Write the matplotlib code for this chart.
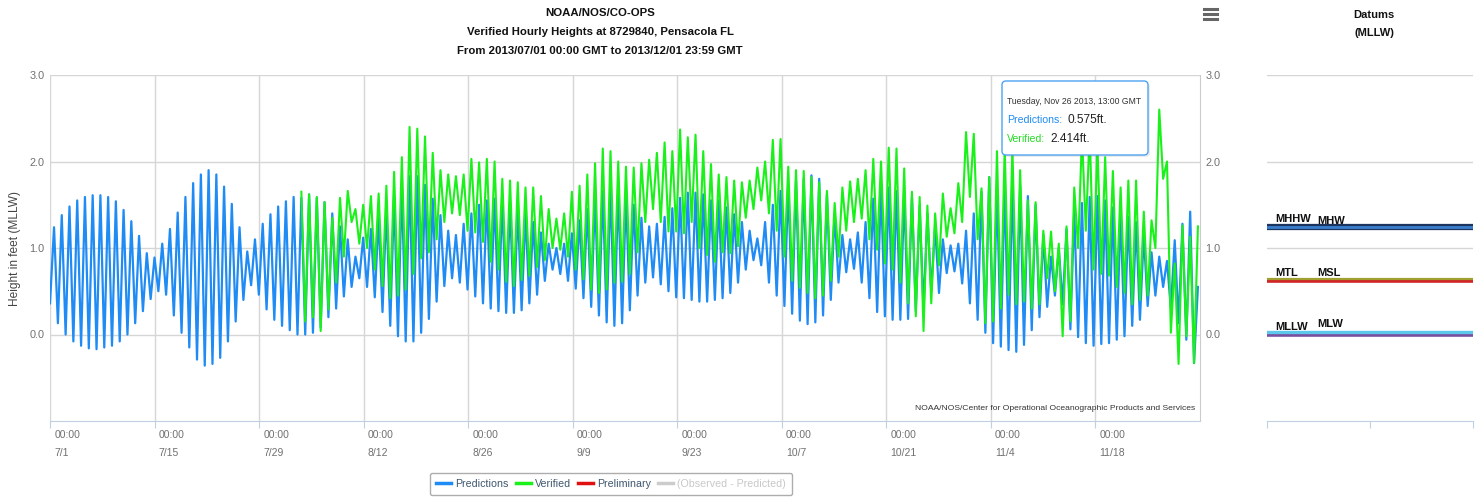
import matplotlib
matplotlib.use("Agg")
import matplotlib.pyplot as plt
from matplotlib import font_manager
from matplotlib.patches import FancyBboxPatch
from matplotlib.lines import Line2D
from matplotlib.transforms import IdentityTransform, ScaledTranslation

# ---- data ----
# one high and one low per tidal (lunar) day, starting at 7/1 00:00
T0 = 0.54      # day of first predicted high
P = 1.035      # lunar day, days

pred_first = 0.36
pred_hi = [1.24, 1.38, 1.48, 1.55, 1.59, 1.61, 1.61, 1.59, 1.54, 1.44,
           1.31, 1.14, 0.94, 0.89, 1.05, 1.22, 1.41, 1.59, 1.75, 1.85,
           1.90, 1.85, 1.71, 1.51, 1.24, 0.96, 1.10, 1.28, 1.39, 1.48,
           1.54, 1.59, 1.58, 1.62, 1.58, 1.53, 1.40, 1.25, 1.10, 0.90,
           1.12, 1.22, 1.35, 1.47, 1.60, 1.74, 1.83, 1.83, 1.73, 1.57,
           1.38, 1.20, 1.15, 1.28, 1.40, 1.50, 1.55, 1.57, 1.55, 1.50,
           1.45, 1.40, 1.30, 1.18, 1.05, 1.00, 1.05, 1.17, 1.32, 1.45,
           1.57, 1.66, 1.70, 1.67, 1.60, 1.50, 1.35, 1.25, 1.28, 1.36,
           1.46, 1.58, 1.64, 1.64, 1.62, 1.55, 1.55, 1.47, 1.39, 1.30,
           1.20, 1.11, 1.30, 1.50, 1.66, 1.74, 1.78, 1.80, 1.84, 1.80,
           1.62, 1.40, 1.15, 1.10, 1.18, 1.30, 1.57, 1.70, 1.70, 1.66,
           1.63, 1.59, 1.49, 1.40, 1.25, 1.10, 1.03, 1.05, 1.20, 1.40,
           1.65, 1.82, 1.68, 1.72, 1.75, 1.72, 1.60, 1.50, 1.15, 0.90,
           1.00, 1.22, 1.43, 1.52, 1.59, 1.60, 1.55, 1.47, 1.41, 1.36,
           1.30, 1.15, 0.95, 0.90, 0.85, 1.09, 1.28, 1.42, 0.55]
pred_lo = [0.13, 0.00, -0.08, -0.13, -0.16, -0.17, -0.15, -0.13, -0.08, 0.00,
           0.13, 0.27, 0.41, 0.50, 0.46, 0.22, 0.02, -0.15, -0.29, -0.36,
           -0.34, -0.27, -0.08, 0.15, 0.40, 0.57, 0.46, 0.29, 0.17, 0.10,
           0.05, 0.00, 0.00, 0.02, 0.08, 0.20, 0.30, 0.44, 0.55, 0.65,
           0.55, 0.43, 0.26, 0.10, -0.02, -0.08, -0.08, 0.02, 0.18, 0.38,
           0.56, 0.65, 0.60, 0.52, 0.44, 0.36, 0.30, 0.27, 0.25, 0.25,
           0.28, 0.36, 0.46, 0.62, 0.75, 0.70, 0.62, 0.53, 0.42, 0.32,
           0.22, 0.14, 0.10, 0.13, 0.28, 0.45, 0.60, 0.66, 0.58, 0.50,
           0.43, 0.42, 0.40, 0.38, 0.38, 0.40, 0.42, 0.48, 0.60, 0.75,
           0.86, 0.80, 0.60, 0.45, 0.33, 0.24, 0.16, 0.12, 0.14, 0.22,
           0.40, 0.60, 0.72, 0.76, 0.60, 0.42, 0.26, 0.21, 0.17, 0.17,
           0.18, 0.27, 0.29, 0.50, 0.48, 0.71, 0.73, 0.59, 0.36, 0.17,
           0.02, -0.10, -0.14, -0.18, -0.20, -0.12, 0.05, 0.20, 0.32, 0.45,
           0.35, 0.06, -0.03, -0.10, -0.13, -0.11, -0.10, -0.06, -0.02, 0.10,
           0.17, 0.33, 0.45, 0.55, 0.30, 0.13, -0.06, -0.33]

ver_k0 = 32    # verified data starts at the 33rd tidal day
ver_hi = [1.65, 1.62, 1.59, 1.53, 1.35, 1.58, 1.66, 1.45, 1.50, 1.60,
          1.63, 1.72, 1.88, 2.05, 2.40, 2.38, 2.29, 2.10, 1.90, 1.85,
          1.83, 1.85, 2.03, 1.99, 2.03, 2.00, 1.80, 1.78, 1.76, 1.70,
          1.70, 1.60, 1.45, 1.34, 1.40, 1.65, 1.72, 1.85, 1.98, 2.15,
          2.12, 2.00, 1.94, 1.93, 1.98, 2.02, 2.10, 2.22, 2.12, 2.37,
          2.28, 2.31, 2.12, 1.97, 1.85, 1.82, 1.78, 1.76, 1.78, 1.93,
          2.00, 2.25, 2.26, 1.94, 1.90, 1.89, 1.82, 1.76, 1.66, 1.52,
          1.70, 1.77, 1.80, 1.90, 2.03, 2.00, 2.16, 2.15, 1.92, 1.65,
          1.59, 1.49, 1.40, 1.63, 1.46, 1.75, 2.34, 2.32, 1.69, 1.82,
          2.12, 2.15, 2.15, 1.90, 1.55, 1.53, 1.20, 1.19, 1.05, 1.25,
          1.70, 2.30, 2.35, 2.20, 2.05, 1.89, 1.70, 1.78, 1.78, 1.42,
          1.32, 2.60, 2.00, 0.82, 1.26, 1.13, 1.25]
ver_lo = [0.15, 0.20, 0.04, 0.29, 0.60, 0.90, 1.30, 1.05, 1.00, 0.75,
          0.56, 0.42, 0.45, 0.52, 0.70, 0.88, 0.95, 1.10, 1.30, 1.40,
          1.38, 1.20, 1.18, 1.07, 0.84, 0.75, 0.61, 0.56, 0.63, 0.68,
          0.78, 0.86, 1.00, 0.98, 0.90, 0.75, 0.64, 0.52, 0.48, 0.52,
          0.60, 0.61, 0.70, 0.95, 1.30, 1.45, 1.30, 1.19, 1.19, 1.17,
          1.30, 1.00, 0.92, 0.84, 0.95, 0.94, 1.02, 1.35, 1.45, 1.55,
          1.40, 1.20, 0.90, 0.62, 0.54, 0.48, 0.42, 0.45, 0.62, 0.90,
          1.20, 1.30, 1.34, 1.10, 0.98, 0.82, 0.75, 0.60, 0.36, 0.21,
          0.04, 0.36, 0.80, 1.13, 1.17, 1.30, 1.59, 1.10, 0.13, 0.15,
          0.30, 0.46, 0.35, 0.38, 0.30, 0.35, 0.65, 0.50, -0.02, 0.15,
          1.00, 1.20, 0.75, 0.70, 0.68, 0.55, 0.48, 0.35, 0.40, 0.45,
          1.00, 1.80, 0.02, -0.34, -0.02, -0.33]

tick_days = [0, 14, 28, 42, 56, 70, 84, 98, 112, 126, 140]
tick_dates = ["7/1", "7/15", "7/29", "8/12", "8/26", "9/9", "9/23",
              "10/7", "10/21", "11/4", "11/18"]

datum_names = ["MHHW", "MHW", "MTL", "MSL", "MLLW", "MLW"]
datum_values = [1.24, 1.245, 0.615, 0.64, 0.0, 0.025]
datum_colors = ["#1b3560", "#3b7fcc", "#d02525", "#a0a030", "#7b4fa0", "#5cc8ec"]

BLUE = "#1f8bf5"
GREEN = "#1af01a"

names = {f.name for f in font_manager.fontManager.ttflist}
NARROW = "Liberation Sans Narrow" if "Liberation Sans Narrow" in names else "Liberation Sans"


def tide_series(k0, highs, lows, first=None):
    t, v = [], []
    if first is not None:
        t.append(0.0)
        v.append(first)
    for i, h in enumerate(highs):
        k = k0 + i
        t.append(T0 + k * P)
        v.append(h)
        if i < len(lows):
            t.append(T0 + (k + 0.5) * P)
            v.append(lows[i])
    return t, v


W, H = 1476, 499
fig = plt.figure(figsize=(W / 100, H / 100), dpi=100)


def fx(px):
    return px / W


def fy(py):
    return 1 - py / H


ax = fig.add_axes([fx(50), fy(421), 1150 / W, 346 / H])
t_p, v_p = tide_series(0, pred_hi, pred_lo, pred_first)
t_v, v_v = tide_series(ver_k0, ver_hi, ver_lo)
ax.plot(t_p, v_p, color=BLUE, lw=1.6, zorder=3, solid_joinstyle="round")
ax.plot(t_v, v_v, color=GREEN, lw=1.5, zorder=4, solid_joinstyle="round")

ax.set_xlim(0, 154)
ax.set_ylim(-1, 3)
ax.set_yticks([0, 1, 2, 3])
ax.set_yticklabels(["0.0", "1.0", "2.0", "3.0"])
ax.set_xticks(tick_days)
ax.set_xticklabels(["00:00\n" + d for d in tick_dates], fontfamily=NARROW,
                   linespacing=2.0)
ax.grid(True, color="#d6d6d6", lw=1)
ax.set_axisbelow(True)
for s in ["top", "left"]:
    ax.spines[s].set_visible(False)
ax.spines["right"].set_color("#cccccc")
ax.spines["bottom"].set_color("#c0d0e0")
ax.tick_params(axis="y", length=0, labelleft=True, labelright=True, pad=4,
               labelcolor="#707070", labelsize=7.8)
for lbl in ax.get_yticklabels():
    lbl.set_fontfamily(NARROW)
ax.tick_params(axis="x", length=5, color="#c0d0e0", labelcolor="#707070",
               labelsize=7.5, pad=1.5)
off = ScaledTranslation(3 / 72, 0, fig.dpi_scale_trans)
for lbl in ax.get_xticklabels():
    lbl.set_ha("left")
    lbl.set_multialignment("left")
    lbl.set_transform(lbl.get_transform() + off)

fig.text(fx(15), fy(248), "Height in feet (MLLW)", rotation=90, ha="center",
         va="center", fontsize=8.6, color="#444444", family="Liberation Sans")

# titles
title_lines = ["NOAA/NOS/CO-OPS",
               "Verified Hourly Heights at 8729840, Pensacola FL",
               "From 2013/07/01 00:00 GMT to 2013/12/01 23:59 GMT"]
for line, y in zip(title_lines, [13, 32, 51]):
    fig.text(fx(600), fy(y), line, ha="center", va="center", fontsize=8.2,
             family=NARROW, color="#111111", fontweight="semibold")
fig.text(fx(1374), fy(15), "Datums", ha="center", va="center", fontsize=8,
         family=NARROW, color="#111111", fontweight="semibold")
fig.text(fx(1374), fy(33), "(MLLW)", ha="center", va="center", fontsize=8,
         family=NARROW, color="#111111", fontweight="semibold")

# credits
fig.text(fx(1195), fy(408), "NOAA/NOS/Center for Operational Oceanographic Products and Services",
         ha="right", va="center", fontsize=6.1, family=NARROW, color="#333333")

# menu icon
for yy in [9, 14, 19]:
    fig.add_artist(Line2D([1204, 1217], [H - yy, H - yy], lw=2.2, color="#666666",
                          transform=IdentityTransform()))

# tooltip
fig.add_artist(FancyBboxPatch((1004, H - 157), 146, 74,
                              boxstyle="round,pad=0,rounding_size=4",
                              transform=IdentityTransform(), fc="#000000",
                              ec="none", alpha=0.08, zorder=9))
fig.add_artist(FancyBboxPatch((1002, H - 155), 146, 74,
                              boxstyle="round,pad=0,rounding_size=4",
                              transform=IdentityTransform(), fc="white",
                              ec="#4da3f0", lw=1, zorder=10))
fig.text(fx(1007), fy(101), "Tuesday, Nov 26 2013, 13:00 GMT", fontsize=6.2,
         family=NARROW, color="#333333", va="center", zorder=11)
renderer = fig.canvas.get_renderer()
for name, col, val, y in [("Predictions:", BLUE, "0.575ft.", 120),
                          ("Verified:", "#22dd22", "2.414ft.", 139)]:
    t1 = fig.text(fx(1007), fy(y), name, fontsize=7.6, family=NARROW,
                  color=col, va="center", zorder=11)
    x1 = t1.get_window_extent(renderer).x1
    fig.text((x1 + 5) / W, fy(y), val, fontsize=8.6, family=NARROW,
             color="#222222", va="center", zorder=11)

# legend
handles = [Line2D([], [], color=BLUE, lw=2.5),
           Line2D([], [], color=GREEN, lw=2.5),
           Line2D([], [], color="#e01010", lw=2.5),
           Line2D([], [], color="#cccccc", lw=2.5)]
labels = ["Predictions", "Verified", "Preliminary", "(Observed - Predicted)"]
leg = fig.legend(handles, labels, loc="center", bbox_to_anchor=(fx(611), fy(484)),
                 ncol=4, frameon=True, fancybox=True, edgecolor="#999999",
                 prop={"family": NARROW, "size": 7.7}, handlelength=1.4,
                 handletextpad=0.35, columnspacing=0.7, borderpad=0.55)
leg.get_frame().set_linewidth(1)
for txt, c in zip(leg.get_texts(), ["#3e576f", "#3e576f", "#3e576f", "#c8c8c8"]):
    txt.set_color(c)

# datums panel
dax = fig.add_axes([fx(1267), fy(421), 206 / W, 346 / H])
dax.set_xlim(0, 2)
dax.set_ylim(-1, 3)
dax.set_yticks([1, 2, 3])
dax.yaxis.grid(True, color="#d6d6d6", lw=1)
dax.set_axisbelow(True)
dax.set_xticks([0, 1, 2])
dax.tick_params(axis="x", length=5, color="#c0d0e0", labelbottom=False)
dax.tick_params(axis="y", length=0, labelleft=False)
for s in ["top", "left", "right"]:
    dax.spines[s].set_visible(False)
dax.spines["bottom"].set_color("#c0d0e0")

widths = [4.5, 2.0, 2.6, 1.6, 2.6, 2.4]
for name, val, col, lw in zip(datum_names, datum_values, datum_colors, widths):
    dax.axhline(val, color=col, lw=lw, zorder=3)

label_pos = {"MHHW": (0.08, 1.33), "MHW": (0.49, 1.31), "MTL": (0.08, 0.71),
             "MSL": (0.49, 0.71), "MLLW": (0.08, 0.09), "MLW": (0.49, 0.12)}
for name in datum_names:
    x, y = label_pos[name]
    dax.text(x, y, name, fontsize=8, family=NARROW, color="#111111",
             fontweight="bold", va="center", ha="left")

fig.savefig("out.png", dpi=100)
